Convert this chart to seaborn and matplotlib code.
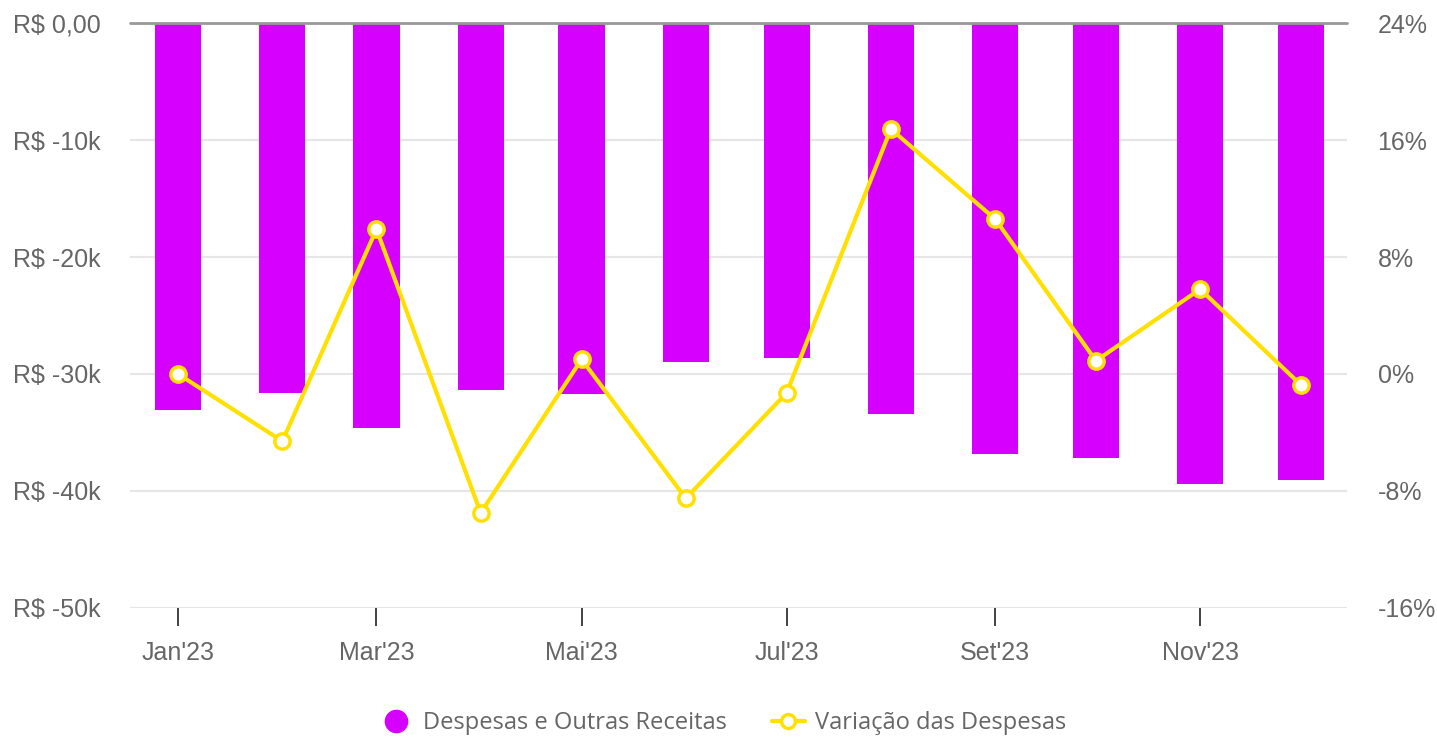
import numpy as np
import pandas as pd
import matplotlib
matplotlib.use("Agg")
import matplotlib.pyplot as plt
import seaborn as sns
from matplotlib.lines import Line2D
from matplotlib.ticker import FuncFormatter


# dados
meses = ["2023-01-01", "2023-02-01", "2023-03-01", "2023-04-01", "2023-05-01", "2023-06-01",
         "2023-07-01", "2023-08-01", "2023-09-01", "2023-10-01", "2023-11-01", "2023-12-01"]
rotulos = ["Jan'23", "Fev'23", "Mar'23", "Abr'23", "Mai'23", "Jun'23",
           "Jul'23", "Ago'23", "Set'23", "Out'23", "Nov'23", "Dez'23"]
despesas = [-33100, -31600, -34600, -31400, -31700, -29000,
            -28600, -33400, -36800, -37200, -39400, -39100]
variacao = [0.0, -4.6, 9.9, -9.5, 1.0, -8.5, -1.3, 16.75, 10.6, 0.9, 5.8, -0.75]

df = pd.DataFrame({"mes": pd.to_datetime(meses), "despesas": despesas, "variacao": variacao})
df["dia"] = (df["mes"] - df["mes"].iloc[0]).dt.days

ROXO = "#D500FF"
AMARELO = "#FFE000"
CINZA = "#666666"

sns.set_style("white")
plt.rcParams["font.family"] = ["Liberation Sans", "DejaVu Sans"]

fig = plt.figure(figsize=(14.37, 7.38), dpi=100)
ax = fig.add_axes([0.0905, 0.1762, 0.8469, 0.7926])

sns.barplot(data=df, x="dia", y="despesas", native_scale=True, width=0.49,
            color=ROXO, saturation=1, linewidth=0, ax=ax, zorder=2)
ax.set_ylim(-50000, 0)
ax.set_yticks(np.arange(-50000, 1, 10000))
ax.yaxis.set_major_formatter(FuncFormatter(
    lambda v, p: "R$ 0,00" if v == 0 else f"R$ {int(v / 1000)}k"))
ax.set_xlim(-14.3, 347.7)
ax.set_xticks(df["dia"].iloc[::2])
ax.set_xticklabels(rotulos[::2])
ax.yaxis.grid(True, color="#e6e6e6", linewidth=1.5, zorder=0)
ax.set_axisbelow(True)
ax.axhline(0, color="#999999", linewidth=2, clip_on=False, zorder=3)
ax.set_xlabel("")
ax.set_ylabel("")
ax.tick_params(axis="y", length=0, pad=21, labelsize=18, labelcolor=CINZA)
ax.tick_params(axis="x", bottom=True, direction="out", length=13, width=1.3,
               color="#333333", pad=11, labelsize=18, labelcolor=CINZA)
for s in ax.spines.values():
    s.set_visible(False)

ax2 = ax.twinx()
sns.lineplot(data=df, x="dia", y="variacao", ax=ax2, color=AMARELO, linewidth=3,
             marker="o", markersize=11, markerfacecolor="white",
             markeredgecolor=AMARELO, markeredgewidth=2.5, zorder=4)
ax2.set_ylim(-16, 24)
ax2.set_yticks(np.arange(-16, 25, 8))
ax2.yaxis.set_major_formatter(FuncFormatter(lambda v, p: f"{int(v)}%"))
ax2.tick_params(axis="y", length=0, pad=22, labelsize=18, labelcolor=CINZA)
ax2.set_ylabel("")
ax2.grid(False)
for s in ax2.spines.values():
    s.set_visible(False)

handles = [
    Line2D([], [], linestyle="none", marker="o", markersize=16,
           markerfacecolor=ROXO, markeredgecolor=ROXO),
    Line2D([], [], color=AMARELO, linewidth=3, marker="o", markersize=10,
           markerfacecolor="white", markeredgecolor=AMARELO, markeredgewidth=2.5),
]
fig.legend(handles, ["Despesas e Outras Receitas", "Variação das Despesas"],
           loc="center", bbox_to_anchor=(0.503, 1 - 723 / 738), ncol=2,
           frameon=False, prop={"family": "Open Sans", "size": 17},
           labelcolor=CINZA, handlelength=1.4, handletextpad=0.45, columnspacing=1.9)

fig.savefig("out.png", dpi=100)
